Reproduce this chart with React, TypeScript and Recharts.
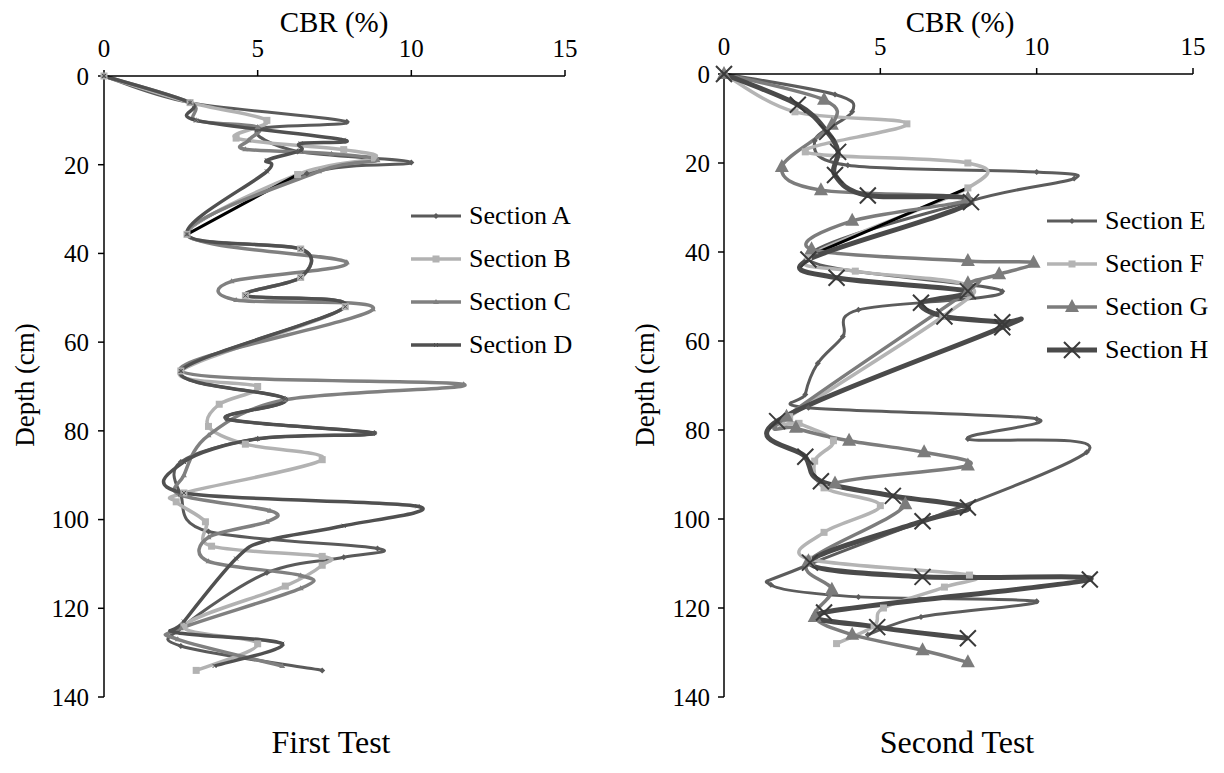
import { LineChart, Line, XAxis, YAxis, Legend } from "recharts";

const FONT = "'Times New Roman', Times, 'Liberation Serif', 'DejaVu Serif', serif";

// Depth (cm) and CBR (%) readings per section, first test
const depthA = [0, 6, 10.3, 12, 17, 19.5, 22, 35.7, 39, 45.4, 49.5, 52, 66.5, 72.8, 77.3, 80.5, 81.8, 87, 94.5, 102.7, 106.5, 108.5, 112, 124, 128.5, 134];
const cbrA = [0, 2.8, 7.9, 5.0, 6.3, 10.0, 6.6, 2.7, 6.4, 6.4, 4.6, 7.85, 2.5, 5.9, 4.0, 8.8, 5.0, 2.5, 2.5, 3.4, 8.9, 7.8, 5.3, 2.6, 2.5, 7.1];

const depthB = [0, 6, 10, 14, 16.6, 18.5, 22.2, 35.7, 39, 45.4, 49.5, 52, 66.5, 70, 74, 79, 83, 86.5, 94, 96, 100.5, 106, 108.3, 110.3, 115, 124, 128, 134];
const cbrB = [0, 2.8, 5.3, 4.3, 7.8, 8.8, 6.3, 2.7, 6.4, 6.4, 4.6, 7.85, 2.5, 5.0, 3.75, 3.4, 4.6, 7.1, 2.6, 2.35, 3.3, 3.5, 7.1, 7.1, 5.9, 2.6, 5.0, 3.0];

const depthC = [0, 6, 10, 11.5, 14.5, 16.5, 17.5, 19, 21.5, 35.7, 42, 46.3, 50.5, 52.6, 66.5, 69.5, 73, 81, 90, 94.5, 98, 100.5, 104, 109.4, 112.6, 115.5, 124.5, 127, 133];
const cbrC = [0, 2.8, 3.0, 5.0, 4.7, 4.6, 7.4, 8.9, 7.0, 2.7, 7.9, 4.15, 4.3, 8.75, 2.5, 11.7, 5.9, 3.4, 2.6, 2.5, 5.4, 5.3, 3.4, 3.4, 6.4, 6.4, 2.5, 2.4, 5.8];

const depthD = [0, 6, 10, 14.4, 15.2, 16.8, 19, 21.5, 35.7, 39, 45.4, 49.5, 52, 66.5, 72.8, 77.3, 80.5, 81.8, 87, 94, 97, 101.4, 104.7, 108.8, 123, 125.5, 128, 133];
const cbrD = [0, 2.8, 3.0, 7.8, 6.4, 6.4, 5.3, 5.3, 2.7, 6.4, 6.4, 4.6, 7.85, 2.5, 5.9, 4.0, 8.8, 5.0, 2.6, 2.6, 10.2, 7.8, 5.3, 4.3, 2.6, 2.4, 5.8, 3.6];

const depthLink1 = [22.2, 35.7];
const cbrLink1 = [6.3, 2.7];

// Second test
const depthE = [0, 4.6, 8.5, 15, 20.5, 22, 23.5, 28.5, 41.5, 48.8, 53, 59, 65, 72, 75, 77.5, 82, 85, 110, 114.8, 117.5, 118.5, 122, 126];
const cbrE = [0, 3.55, 4.1, 2.9, 3.96, 10.0, 11.2, 7.9, 2.7, 8.9, 4.3, 3.8, 3.0, 2.6, 2.7, 10.0, 7.8, 11.6, 2.8, 1.5, 4.3, 10.0, 6.3, 4.6];

const depthF = [0, 8.5, 11.2, 17.5, 20, 25.6, 41, 44.3, 47.5, 54.5, 77, 78.5, 82.4, 87, 93, 97, 103, 109, 112.6, 115.3, 120, 124, 128];
const cbrF = [0, 2.27, 5.85, 2.6, 7.8, 7.8, 2.7, 4.2, 7.8, 7.0, 2.1, 2.4, 3.5, 2.9, 3.2, 5.0, 3.2, 2.7, 7.85, 7.05, 5.1, 4.8, 3.6];

const depthG = [0, 5.8, 11.4, 20.9, 26.1, 28, 33, 39.4, 42, 42.4, 45, 47, 48.8, 77, 79.5, 82.4, 85, 88, 92, 96.7, 109.5, 115.9, 122, 126, 129.5, 132.2];
const cbrG = [0, 3.2, 3.45, 1.85, 3.1, 7.8, 4.1, 2.8, 7.8, 9.9, 8.8, 7.8, 7.8, 2.0, 2.3, 4.0, 6.4, 7.8, 3.55, 5.8, 2.7, 3.45, 2.9, 4.1, 6.35, 7.8];

const depthH = [0, 6.9, 13, 17.5, 22.7, 27.3, 28.8, 41.7, 45.8, 48.8, 51.4, 54.5, 55.8, 56.9, 78, 86, 91.5, 94.8, 97.4, 100.5, 109.8, 113, 113.6, 121, 124.3, 126.8];
const cbrH = [0, 2.36, 3.3, 3.65, 3.55, 4.6, 7.9, 2.7, 3.6, 7.8, 6.3, 7.05, 8.9, 8.9, 1.7, 2.6, 3.1, 5.4, 7.8, 6.35, 2.75, 6.35, 11.7, 3.2, 4.9, 7.8];

const depthLink2 = [25.6, 41];
const cbrLink2 = [7.8, 2.7];

const cbrTicks = [0, 5, 10, 15];
const depthTicks = [0, 20, 40, 60, 80, 100, 120, 140];

type Pt = { depth: number; cbr: number };
const zip = (d: number[], c: number[]): Pt[] => d.map((depth, i) => ({ depth, cbr: c[i] }));

// Spreadsheet-style smoothed line: cubic Bezier through every point,
// control points taken from the neighbouring points (Catmull-Rom, 1/6).
const smoothCurve: any = (context: any) => {
  let pts: [number, number][] = [];
  return {
    areaStart() {},
    areaEnd() {},
    lineStart() {
      pts = [];
    },
    lineEnd() {
      if (!pts.length) return;
      context.moveTo(pts[0][0], pts[0][1]);
      for (let i = 0; i < pts.length - 1; i++) {
        const p0 = pts[i - 1] || pts[i];
        const p1 = pts[i];
        const p2 = pts[i + 1];
        const p3 = pts[i + 2] || p2;
        context.bezierCurveTo(
          p1[0] + (p2[0] - p0[0]) / 6,
          p1[1] + (p2[1] - p0[1]) / 6,
          p2[0] - (p3[0] - p1[0]) / 6,
          p2[1] - (p3[1] - p1[1]) / 6,
          p2[0],
          p2[1]
        );
      }
    },
    point(x: number, y: number) {
      pts.push([+x, +y]);
    },
  };
};

type MarkerKind = "diamond" | "square" | "tri" | "dash" | "bigTri" | "cross" | "none";

interface Series {
  name: string;
  data: Pt[];
  color: string;
  width: number;
  marker: MarkerKind;
  legend: boolean;
}

function Marker({ kind, cx, cy, color }: { kind: MarkerKind; cx: number; cy: number; color: string }) {
  switch (kind) {
    case "diamond":
      return <path d={`M${cx},${cy - 3}L${cx + 3},${cy}L${cx},${cy + 3}L${cx - 3},${cy}Z`} fill={color} />;
    case "square":
      return <rect x={cx - 3.5} y={cy - 3.5} width={7} height={7} fill={color} />;
    case "tri":
      return <path d={`M${cx},${cy - 3}L${cx + 3},${cy + 2}L${cx - 3},${cy + 2}Z`} fill={color} />;
    case "dash":
      return <path d={`M${cx - 2},${cy - 2}L${cx + 2},${cy + 2}M${cx + 2},${cy - 2}L${cx - 2},${cy + 2}`} stroke={color} strokeWidth={1} />;
    case "bigTri":
      return <path d={`M${cx},${cy - 8}L${cx + 7},${cy + 5}L${cx - 7},${cy + 5}Z`} fill={color} />;
    case "cross":
      return (
        <path
          d={`M${cx - 8},${cy - 8}L${cx + 8},${cy + 8}M${cx + 8},${cy - 8}L${cx - 8},${cy + 8}`}
          stroke="#3a3a3a"
          strokeWidth={2}
        />
      );
    default:
      return null;
  }
}

const makeDot = (s: Series) => (props: any) => {
  const { cx, cy, index } = props;
  if (s.marker === "none" || cx == null || cy == null) return <g key={`${s.name}-${index}`} />;
  return <Marker key={`${s.name}-${index}`} kind={s.marker} cx={cx} cy={cy} color={s.color} />;
};

const firstSeries: Series[] = [
  { name: "Section A", data: zip(depthA, cbrA), color: "#5a5a5a", width: 3, marker: "diamond", legend: true },
  { name: "Section B", data: zip(depthB, cbrB), color: "#b2b2b2", width: 3.5, marker: "square", legend: true },
  { name: "link-1", data: zip(depthLink1, cbrLink1), color: "#000000", width: 3, marker: "none", legend: false },
  { name: "Section C", data: zip(depthC, cbrC), color: "#808080", width: 3.5, marker: "tri", legend: true },
  { name: "Section D", data: zip(depthD, cbrD), color: "#505050", width: 3.5, marker: "dash", legend: true },
];

const secondSeries: Series[] = [
  { name: "Section E", data: zip(depthE, cbrE), color: "#5c5c5c", width: 3, marker: "diamond", legend: true },
  { name: "Section F", data: zip(depthF, cbrF), color: "#b4b4b4", width: 3.5, marker: "square", legend: true },
  { name: "link-2", data: zip(depthLink2, cbrLink2), color: "#000000", width: 3, marker: "none", legend: false },
  { name: "Section G", data: zip(depthG, cbrG), color: "#7c7c7c", width: 3.5, marker: "bigTri", legend: true },
  { name: "Section H", data: zip(depthH, cbrH), color: "#4a4a4a", width: 5, marker: "cross", legend: true },
];

function LegendRows({ items }: { items: Series[] }) {
  return (
    <div style={{ fontFamily: FONT, fontSize: 26, color: "#000" }}>
      {items
        .filter((s) => s.legend)
        .map((s) => (
          <div key={s.name} style={{ display: "flex", alignItems: "center", height: 43 }}>
            <svg width={52} height={24} style={{ marginRight: 7 }}>
              <line x1={1} y1={12} x2={51} y2={12} stroke={s.color} strokeWidth={s.width} />
              <Marker kind={s.marker} cx={26} cy={12} color={s.color} />
            </svg>
            <span style={{ whiteSpace: "nowrap" }}>{s.name}</span>
          </div>
        ))}
    </div>
  );
}

interface PanelProps {
  series: Series[];
  left: number;
  margin: { top: number; right: number; bottom: number; left: number };
  yAxisWidth: number;
  yTickMargin: number;
  legendAt: { left: number; top: number };
}

function Panel({ series, left, margin, yAxisWidth, yTickMargin, legendAt }: PanelProps) {
  const tickStyle = { fill: "#000", fontSize: 25, fontFamily: FONT };
  return (
    <div style={{ position: "absolute", left, top: 0 }}>
      <LineChart width={612} height={773} layout="vertical" margin={margin}>
        <XAxis
          type="number"
          orientation="top"
          domain={[0, 15]}
          ticks={cbrTicks}
          height={66}
          tick={tickStyle}
          tickSize={6}
          tickMargin={13}
          axisLine={{ stroke: "#000", strokeWidth: 1.5 }}
          tickLine={{ stroke: "#000", strokeWidth: 1.5 }}
        />
        {/* in vertical layout the depth axis already runs top-down */}
        <YAxis
          type="number"
          dataKey="depth"
          domain={[0, 140]}
          ticks={depthTicks}
          width={yAxisWidth}
          tick={tickStyle}
          tickSize={6}
          tickMargin={yTickMargin}
          axisLine={{ stroke: "#000", strokeWidth: 1.5 }}
          tickLine={{ stroke: "#000", strokeWidth: 1.5 }}
        />
        <Legend
          layout="vertical"
          align="center"
          verticalAlign="middle"
          wrapperStyle={{ left: legendAt.left, top: legendAt.top, width: 220 }}
          content={() => <LegendRows items={series} />}
        />
        {series.map((s) => (
          <Line
            key={s.name}
            data={s.data}
            dataKey="cbr"
            name={s.name}
            type={smoothCurve}
            stroke={s.color}
            strokeWidth={s.width}
            dot={makeDot(s)}
            activeDot={false}
            legendType={s.legend ? "line" : "none"}
            isAnimationActive={false}
          />
        ))}
      </LineChart>
    </div>
  );
}

const textBase = { position: "absolute" as const, fontFamily: FONT, color: "#000", whiteSpace: "nowrap" as const };

export default function App() {
  return (
    <div style={{ position: "absolute", left: 0, top: 0, width: 1224, height: 773, background: "#fff" }}>
      <Panel
        series={firstSeries}
        left={0}
        margin={{ top: 10, right: 47, bottom: 76, left: 10 }}
        yAxisWidth={94}
        yTickMargin={9}
        legendAt={{ left: 410, top: 194 }}
      />
      <Panel
        series={secondSeries}
        left={612}
        margin={{ top: 8, right: 31, bottom: 76, left: 18 }}
        yAxisWidth={94}
        yTickMargin={8}
        legendAt={{ left: 434, top: 199 }}
      />

      <div style={{ ...textBase, left: 334, top: 22, fontSize: 29, transform: "translate(-50%, -50%)" }}>CBR (%)</div>
      <div style={{ ...textBase, left: 960, top: 22, fontSize: 29, transform: "translate(-50%, -50%)" }}>CBR (%)</div>
      <div style={{ ...textBase, left: 25, top: 385, fontSize: 27, transform: "translate(-50%, -50%) rotate(-90deg)" }}>
        Depth (cm)
      </div>
      <div style={{ ...textBase, left: 645, top: 385, fontSize: 27, transform: "translate(-50%, -50%) rotate(-90deg)" }}>
        Depth (cm)
      </div>
      <div style={{ ...textBase, left: 331, top: 742, fontSize: 32, transform: "translate(-50%, -50%)" }}>First Test</div>
      <div style={{ ...textBase, left: 957, top: 742, fontSize: 32, transform: "translate(-50%, -50%)" }}>Second Test</div>
    </div>
  );
}
